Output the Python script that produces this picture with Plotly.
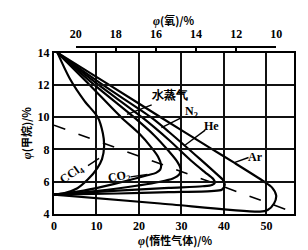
import plotly.graph_objects as go

# ---- data ----
ccl4_x = [0.8, 3.7, 7.2, 10.3, 11.5, 11.8, 11.3, 10.2, 8.0, 5.5, 2.5, 0]
ccl4_y = [14, 12.4, 11.0, 10.0, 9.0, 8.2, 7.4, 6.85, 6.15, 5.6, 5.3, 5.2]

co2_x = [0.8, 8.4, 15.8, 20.0, 23.0, 24.5, 25.2, 25.0, 24.0, 22.0, 14.0, 7.0, 0]
co2_y = [14, 12.0, 10.0, 9.0, 8.1, 7.55, 7.05, 6.75, 6.55, 6.4, 5.85, 5.45, 5.2]

h2o_x = [0.8, 9.5, 18.8, 23.5, 27.0, 29.0, 29.8, 29.5, 28.0, 25.0, 14.0, 7.0, 0]
h2o_y = [14, 12.0, 10.0, 8.9, 7.9, 7.25, 6.8, 6.45, 6.2, 6.0, 5.55, 5.35, 5.2]

n2_x = [0.8, 10.5, 20.7, 27.0, 32.3, 35.5, 37.4, 37.9, 37.2, 35.0, 27.0, 15.0, 0]
n2_y = [14, 12.0, 10.0, 8.6, 7.3, 6.6, 6.2, 5.95, 5.8, 5.72, 5.62, 5.45, 5.2]

he_x = [0.8, 11.5, 22.8, 27.0, 34.4, 38.2, 39.8, 40.2, 39.5, 37.0, 27.0, 15.0, 0]
he_y = [14, 12.0, 10.0, 9.1, 7.4, 6.5, 6.1, 5.8, 5.5, 5.42, 5.35, 5.27, 5.2]

ar_x = [0.8, 13.0, 25.1, 37.0, 42.6, 49.5, 51.3, 52.3, 51.8, 50.3, 48.5, 25.0, 0]
ar_y = [14, 12.0, 10.0, 8.05, 7.15, 6.0, 5.65, 5.15, 4.65, 4.25, 4.15, 4.65, 5.2]

dash_x = [0, 56.5]
dash_y = [9.5, 4.1]

x_ticks = [0, 10, 20, 30, 40, 50]
y_ticks = [4, 6, 8, 10, 12, 14]
o2_ticks = [20, 18, 16, 14, 12, 10]

# labels: text, x, y, angle ; leaders: x0, y0, x1, y1
labels = [
    ("水蒸气", 27.2, 11.35, 0),
    ("N<sub>2</sub>", 32.3, 10.35, 0),
    ("He", 37.0, 9.45, 0),
    ("Ar", 47.4, 7.55, 0),
    ("CO<sub>2</sub>", 15.4, 6.3, -10),
    ("CCl<sub>4</sub>", 4.3, 6.5, -35),
]
leaders = [
    (23.0, 10.76, 17.2, 10.18),
    (29.8, 9.95, 25.3, 9.35),
    (35.6, 9.2, 30.9, 8.28),
    (45.8, 7.5, 42.6, 7.2),
    (18.0, 6.3, 22.0, 6.45),
    (8.0, 7.0, 10.6, 7.45),
]

PHI = "<span style=\"font-family:'Liberation Serif';font-size:12px\"><i>φ</i></span>"
x_title = PHI + "(惰性气体)/%"
y_title = PHI + "(甲烷)/%"
top_title = PHI + "(氧)/%"

fig = go.Figure()
for xs, ys in [(ccl4_x, ccl4_y), (co2_x, co2_y), (h2o_x, h2o_y),
               (n2_x, n2_y), (he_x, he_y), (ar_x, ar_y)]:
    fig.add_trace(go.Scatter(x=xs, y=ys, mode="lines",
                             line=dict(color="black", width=2.2, shape="spline", smoothing=0.8),
                             hoverinfo="skip", showlegend=False))
fig.add_trace(go.Scatter(x=dash_x, y=dash_y, mode="lines",
                         line=dict(color="black", width=1.6, dash="12px,14px"),
                         hoverinfo="skip", showlegend=False))
# invisible trace so the top oxygen axis is drawn
fig.add_trace(go.Scatter(x=[o2_ticks[0], o2_ticks[-1]], y=[None, None], xaxis="x2",
                         mode="lines", showlegend=False, hoverinfo="skip"))

serif = "Liberation Serif"
cjk = "Noto Sans CJK SC"

for t, x, y, a in labels:
    fig.add_annotation(x=x, y=y, text=t, showarrow=False, textangle=a,
                       font=dict(family=serif, size=12, color="black", weight="bold"))
for x0, y0, x1, y1 in leaders:
    fig.add_shape(type="line", x0=x0, y0=y0, x1=x1, y1=y1, xref="x", yref="y",
                  line=dict(color="black", width=1.4))

title_font = dict(family=cjk, size=11, color="black", weight="bold")
fig.add_annotation(xref="paper", yref="paper", x=0.506, y=-0.133, text=x_title,
                   xanchor="center", yanchor="middle", showarrow=False, font=title_font)
fig.add_annotation(xref="paper", yref="paper", x=-0.119, y=0.408, text=y_title,
                   xanchor="center", yanchor="middle", showarrow=False, textangle=-90,
                   font=title_font)
fig.add_annotation(xref="paper", yref="paper", x=0.498, y=0.976, text=top_title,
                   xanchor="center", yanchor="middle", showarrow=False, font=title_font)

fig.update_layout(
    width=308, height=250,
    margin=dict(l=54, r=11, t=8, b=36),
    paper_bgcolor="white", plot_bgcolor="rgba(0,0,0,0)",
    font=dict(family=serif, color="black"),
    xaxis=dict(range=[0, 56.5], tickvals=x_ticks, showgrid=True,
               gridcolor="#111", gridwidth=1.6, zeroline=False,
               showline=True, linecolor="black", linewidth=2, mirror=True,
               ticks="", tickfont=dict(family=serif, size=12, weight="bold")),
    yaxis=dict(range=[4, 14], domain=[0, 0.8107], tickvals=y_ticks, showgrid=True,
               gridcolor="#111", gridwidth=1.6, zeroline=False,
               showline=True, linecolor="black", linewidth=2, mirror=True,
               ticks="", tickfont=dict(family=serif, size=12, weight="bold")),
    xaxis2=dict(range=[20, 10], domain=[0.0905, 0.926], anchor="free", position=0.8398,
                side="top", tickvals=o2_ticks, showgrid=False,
                zeroline=False, showline=True, linecolor="black", linewidth=1.5,
                ticks="inside", ticklen=5, tickwidth=1.5, tickcolor="black",
                ticklabelstandoff=3,
                tickfont=dict(family=serif, size=12, weight="bold")),
)

fig.write_html("out.html")
